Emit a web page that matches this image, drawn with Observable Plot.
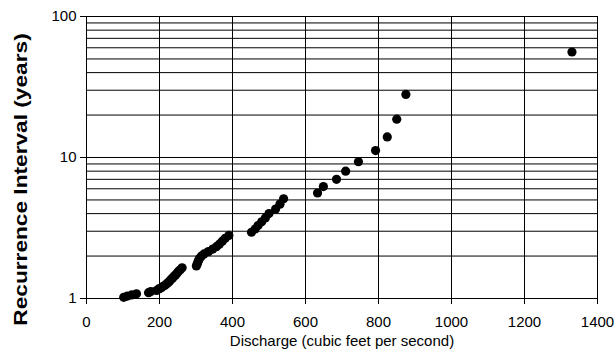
<!DOCTYPE html>
<html><head><meta charset="utf-8">
<script src="https://cdn.jsdelivr.net/npm/d3@7"></script>
<script src="https://cdn.jsdelivr.net/npm/@observablehq/plot@0.6"></script>
<style>body{margin:0;background:#fff}</style>
</head><body><div id="chart"></div>
<script>
const discharge = [1330, 875, 850, 824, 792, 745, 710, 685, 649, 633,
  540, 530, 518, 500, 490, 480, 470, 462, 452,
  390, 380, 372, 364, 356, 346, 334, 322, 315, 310, 307, 305, 303, 301,
  262, 257, 252, 248, 244, 240, 236, 232, 228, 224, 220, 215, 210, 205, 198, 192, 176, 170,
  137, 124, 112, 102];
const recurrence = [56, 28, 18.7, 14, 11.2, 9.33, 8, 7, 6.22, 5.6,
  5.09, 4.67, 4.31, 4.0, 3.73, 3.5, 3.29, 3.11, 2.95,
  2.8, 2.67, 2.55, 2.43, 2.33, 2.24, 2.15, 2.07, 2.0, 1.93, 1.87, 1.81, 1.75, 1.7,
  1.65, 1.6, 1.56, 1.51, 1.47, 1.44, 1.4, 1.37, 1.33, 1.3, 1.27, 1.24, 1.22, 1.19, 1.17, 1.14, 1.12, 1.1,
  1.08, 1.06, 1.04, 1.02];
const xTicks = [0, 200, 400, 600, 800, 1000, 1200, 1400];
const yTicks = [1, 10, 100];
const yGrid = [1, 2, 3, 4, 5, 6, 7, 8, 9, 10, 20, 30, 40, 50, 60, 70, 80, 90, 100];
const xTitle = "Discharge (cubic feet per second)";
const yTitle = "Recurrence Interval (years)";

const data = discharge.map((q, i) => ({q, t: recurrence[i]}));

const chart = Plot.plot({
  width: 615, height: 356,
  marginLeft: 86, marginRight: 18, marginTop: 16, marginBottom: 58,
  style: {fontFamily: "'Liberation Sans', Arial, sans-serif", fontSize: "15px", color: "#000", background: "#fff", overflow: "visible"},
  x: {domain: [0, 1400]},
  y: {type: "log", domain: [1, 100]},
  marks: [
    Plot.ruleY(yGrid, {stroke: "#000", strokeWidth: 1}),
    Plot.ruleX(xTicks, {stroke: "#000", strokeWidth: 1}),
    Plot.frame({stroke: "#000", strokeWidth: 1}),
    Plot.axisX({ticks: xTicks, tickSize: 6, tickPadding: 12, tickFormat: d => String(d), label: null, fontSize: 15}),
    Plot.axisY({ticks: yTicks, tickSize: 6, tickPadding: 4, tickFormat: d => String(d), label: null, fontSize: 15}),
    Plot.dot(data, {x: "q", y: "t", r: 4.6, fill: "#000"}),
    Plot.text([xTitle], {frameAnchor: "bottom", dy: 47, fontSize: 15, fill: "#000"}),
    Plot.text([yTitle], {frameAnchor: "left", textAnchor: "middle", dx: -65, dy: 22, rotate: -90, fontWeight: "bold", fontSize: 18, fill: "#000"})
  ]
});
document.getElementById("chart").appendChild(chart);
d3.select(chart).selectAll("text").filter(function() { return this.textContent === yTitle; })
  .each(function() {
    const t = this.getAttribute("transform") || "";
    this.setAttribute("transform", t + " scale(1.26,1)");
  });
</script>
</body></html>
